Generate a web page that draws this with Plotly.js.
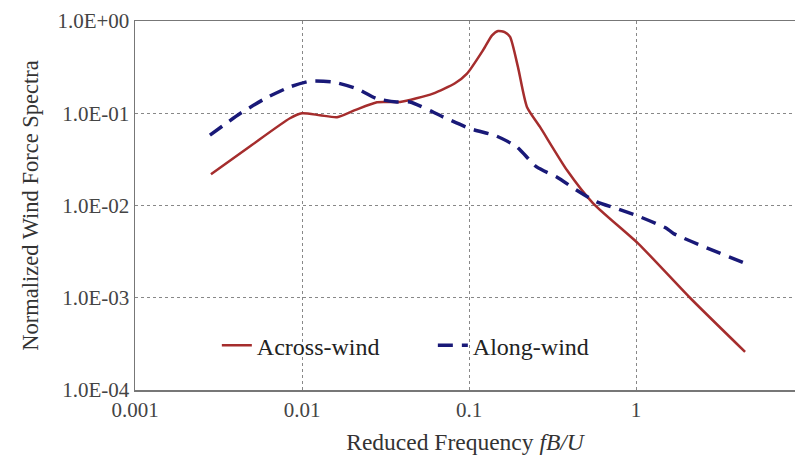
<!DOCTYPE html>
<html>
<head>
<meta charset="utf-8">
<script src="https://cdn.plot.ly/plotly-3.0.1.min.js"></script>
<style>html,body{margin:0;padding:0;background:#fff}#chart{width:795px;height:457px}</style>
</head>
<body>
<div id="chart"></div>
<script>
// Across-wind spectrum (reduced frequency, normalized spectrum)
const acrossFreq = [0.00285, 0.00489, 0.00847, 0.01, 0.01282, 0.01622, 0.02075, 0.02812, 0.03864, 0.06081, 0.08241, 0.09727, 0.1213, 0.1374, 0.1493, 0.1644, 0.1762, 0.1963, 0.2223, 0.2661, 0.3864, 0.5534, 1.028, 2.104, 4.498];
const acrossVals = [0.0218, 0.0439, 0.0883, 0.100, 0.0951, 0.0906, 0.1079, 0.1315, 0.1327, 0.1633, 0.2113, 0.269, 0.482, 0.700, 0.780, 0.755, 0.671, 0.318, 0.117, 0.0711, 0.0241, 0.01057, 0.00389, 0.00100, 0.000259];
// Along-wind spectrum
const alongFreq = [0.00281, 0.00426, 0.00615, 0.00847, 0.01117, 0.01535, 0.02128, 0.02799, 0.03690, 0.04436, 0.06982, 0.1014, 0.1466, 0.1932, 0.2541, 0.3350, 0.4416, 0.5821, 0.7656, 1.057, 1.528, 1.675, 4.498];
const alongVals = [0.0578, 0.0993, 0.1476, 0.1932, 0.2223, 0.2183, 0.1849, 0.1442, 0.1327, 0.1327, 0.0914, 0.0682, 0.0564, 0.0432, 0.0262, 0.0204, 0.01466, 0.01094, 0.00927, 0.00753, 0.00564, 0.00498, 0.00236];

const yTickVals = [1e-4, 1e-3, 1e-2, 1e-1, 1];
const yTickText = ['1.0E-04', '1.0E-03', '1.0E-02', '1.0E-01', '1.0E+00'];
const xTickVals = [0.001, 0.01, 0.1, 1];
const xTickText = ['0.001', '0.01', '0.1', '1'];

const serif = 'Liberation Serif';

const traces = [
  {
    x: acrossFreq, y: acrossVals, name: 'Across-wind', mode: 'lines',
    line: {color: 'rgb(165,45,45)', width: 2.5, shape: 'spline', smoothing: 0.6}
  },
  {
    x: alongFreq, y: alongVals, name: 'Along-wind', mode: 'lines',
    line: {color: 'rgb(25,25,120)', width: 3.5, dash: '15px,9px', shape: 'spline', smoothing: 0.6}
  }
];

const layout = {
  width: 795, height: 457,
  margin: {l: 135, r: 0, t: 21, b: 67},
  paper_bgcolor: '#fff', plot_bgcolor: '#fff',
  font: {family: serif, color: '#333', size: 20},
  showlegend: true,
  legend: {
    orientation: 'h', x: 0.124, y: 0.12, xanchor: 'left', yanchor: 'middle',
    bgcolor: 'rgba(0,0,0,0)', borderwidth: 0,
    font: {family: serif, size: 24, color: '#222'},
    entrywidth: 171, entrywidthmode: 'pixels'
  },
  shapes: [{
    type: 'rect', xref: 'paper', yref: 'paper', layer: 'between',
    x0: 0.121, x1: 0.78, y0: 0.046, y1: 0.195,
    fillcolor: '#fff', line: {width: 0}
  }],
  xaxis: {
    type: 'log', range: [-3, 0.952], autorange: false,
    tickvals: xTickVals, ticktext: xTickText, ticks: '',
    tickfont: {family: serif, size: 21, color: '#444'},
    showgrid: true, gridcolor: '#888', griddash: 'dot', gridwidth: 1,
    showline: true, linecolor: '#777', linewidth: 1.5, mirror: true,
    zeroline: false,
    title: {text: 'Reduced Frequency <i>fB/U</i>', font: {family: serif, size: 23.5, color: '#333'}, standoff: 13}
  },
  yaxis: {
    type: 'log', range: [-4, 0], autorange: false,
    tickvals: yTickVals, ticktext: yTickText, ticks: '',
    tickfont: {family: serif, size: 21, color: '#444'},
    showgrid: true, gridcolor: '#888', griddash: 'dot', gridwidth: 1,
    showline: true, linecolor: '#777', linewidth: 1.5,
    zeroline: false,
    title: {text: 'Normalized Wind Force Spectra', font: {family: serif, size: 22.5, color: '#333'}, standoff: 12}
  }
};

Plotly.newPlot('chart', traces, layout, {displayModeBar: false, staticPlot: true});
</script>
</body>
</html>
